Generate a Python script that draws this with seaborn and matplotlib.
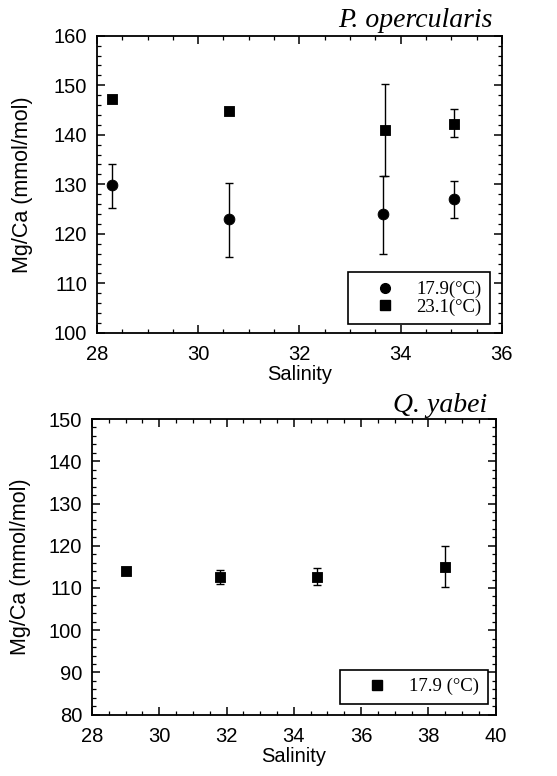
import matplotlib
matplotlib.use("Agg")
import matplotlib.pyplot as plt
import seaborn as sns
import pandas as pd
from matplotlib.ticker import MultipleLocator
from matplotlib.lines import Line2D

# ---- data: P. opercularis ----
po_sal_179 = [28.3, 30.6, 33.65, 35.05]
po_mg_179 = [129.8, 123.0, 124.0, 127.0]
po_err_lo_179 = [125.2, 115.4, 116.0, 123.2]
po_err_hi_179 = [134.0, 130.3, 131.7, 130.6]

po_sal_231 = [28.3, 30.6, 33.7, 35.05]
po_mg_231 = [147.2, 144.7, 141.0, 142.2]
po_err_lo_231 = [147.2, 144.2, 131.7, 139.5]
po_err_hi_231 = [147.2, 145.2, 150.2, 145.2]

# ---- data: Q. yabei ----
qy_sal = [29.0, 31.8, 34.7, 38.5]
qy_mg = [114.0, 112.5, 112.7, 115.0]
qy_err_lo = [113.5, 111.0, 110.6, 110.2]
qy_err_hi = [114.5, 114.2, 114.8, 120.0]

labels_top = ["17.9(°C)", "23.1(°C)"]
label_bottom = "17.9 (°C)"

sns.set_theme(style="white")
plt.rcParams["font.family"] = ["Liberation Sans", "DejaVu Sans"]
plt.rcParams.update({"text.color": "black", "axes.labelcolor": "black",
                     "xtick.color": "black", "ytick.color": "black",
                     "legend.framealpha": 1.0})

fig = plt.figure(figsize=(5.57, 7.76), dpi=100)
ax1 = fig.add_axes([0.174, 0.571, 0.727, 0.383])
ax2 = fig.add_axes([0.165, 0.079, 0.725, 0.381])

def style_axis(ax):
    for s in ax.spines.values():
        s.set_color("black")
        s.set_linewidth(1.3)
    ax.tick_params(which="both", direction="in", top=True, right=True,
                   bottom=True, left=True, color="black", labelcolor="black")
    ax.tick_params(which="major", length=6, width=1.1, labelsize=14.5)
    ax.tick_params(axis="x", which="major", pad=9)
    ax.tick_params(axis="y", which="major", pad=7)
    ax.tick_params(which="minor", length=3, width=0.9)

def err_bars(ax, x, y, lo, hi):
    yerr = [[yy - l for yy, l in zip(y, lo)], [h - yy for yy, h in zip(y, hi)]]
    ax.errorbar(x, y, yerr=yerr, fmt="none", ecolor="black",
                elinewidth=1.0, capsize=3, capthick=1.0, zorder=2)

# ---- top panel ----
df179 = pd.DataFrame({"Salinity": po_sal_179, "Mg": po_mg_179})
df231 = pd.DataFrame({"Salinity": po_sal_231, "Mg": po_mg_231})
err_bars(ax1, po_sal_179, po_mg_179, po_err_lo_179, po_err_hi_179)
err_bars(ax1, po_sal_231, po_mg_231, po_err_lo_231, po_err_hi_231)
sns.scatterplot(data=df179, x="Salinity", y="Mg", ax=ax1, marker="o", s=60,
                color="black", edgecolor="black", zorder=3)
sns.scatterplot(data=df231, x="Salinity", y="Mg", ax=ax1, marker="s", s=60,
                color="black", edgecolor="black", zorder=3)
ax1.set_xlim(28, 36)
ax1.set_ylim(100, 160)
ax1.xaxis.set_major_locator(MultipleLocator(2))
ax1.xaxis.set_minor_locator(MultipleLocator(0.5))
ax1.yaxis.set_major_locator(MultipleLocator(10))
ax1.yaxis.set_minor_locator(MultipleLocator(2))
ax1.set_xlabel("Salinity", fontsize=14.5, color="black")
ax1.set_ylabel("Mg/Ca (mmol/mol)", fontsize=15.5, color="black")
ax1.xaxis.set_label_coords(0.5, -0.108)
ax1.yaxis.set_label_coords(-0.158, 0.5)
style_axis(ax1)
ax1.text(0.978, 1.030, "P. opercularis", transform=ax1.transAxes, ha="right",
         va="baseline", fontsize=20, style="italic", family="Liberation Serif",
         color="black")
h1 = [Line2D([], [], marker="o", color="black", linestyle="none", markersize=7),
      Line2D([], [], marker="s", color="black", linestyle="none", markersize=7)]
leg1 = ax1.legend(h1, labels_top, loc="lower right", bbox_to_anchor=(0.970, 0.030),
                  frameon=True, fancybox=False, edgecolor="black", framealpha=1.0,
                  prop={"family": "Liberation Serif", "size": 13.5},
                  handletextpad=0.18, labelspacing=0.0, borderpad=0.45,
                  handlelength=3.0, borderaxespad=0, labelcolor="black")
leg1.get_frame().set_linewidth(1.2)

# ---- bottom panel ----
dfq = pd.DataFrame({"Salinity": qy_sal, "Mg": qy_mg})
err_bars(ax2, qy_sal, qy_mg, qy_err_lo, qy_err_hi)
sns.scatterplot(data=dfq, x="Salinity", y="Mg", ax=ax2, marker="s", s=60,
                color="black", edgecolor="black", zorder=3)
ax2.set_xlim(28, 40)
ax2.set_ylim(80, 150)
ax2.xaxis.set_major_locator(MultipleLocator(2))
ax2.xaxis.set_minor_locator(MultipleLocator(0.5))
ax2.yaxis.set_major_locator(MultipleLocator(10))
ax2.yaxis.set_minor_locator(MultipleLocator(2))
ax2.set_xlabel("Salinity", fontsize=14.5, color="black")
ax2.set_ylabel("Mg/Ca (mmol/mol)", fontsize=15.5, color="black")
ax2.xaxis.set_label_coords(0.5, -0.108)
ax2.yaxis.set_label_coords(-0.151, 0.5)
style_axis(ax2)
ax2.text(0.980, 1.024, "Q. yabei", transform=ax2.transAxes, ha="right",
         va="baseline", fontsize=20, style="italic", family="Liberation Serif",
         color="black")
h2 = [Line2D([], [], marker="s", color="black", linestyle="none", markersize=7)]
leg2 = ax2.legend(h2, [label_bottom], loc="lower right", bbox_to_anchor=(0.980, 0.037),
                  frameon=True, fancybox=False, edgecolor="black", framealpha=1.0,
                  prop={"family": "Liberation Serif", "size": 13.5},
                  handletextpad=0.23, borderpad=0.45, handlelength=3.0,
                  borderaxespad=0, labelcolor="black")
leg2.get_frame().set_linewidth(1.2)

fig.savefig("out.png", dpi=100, facecolor="white")
